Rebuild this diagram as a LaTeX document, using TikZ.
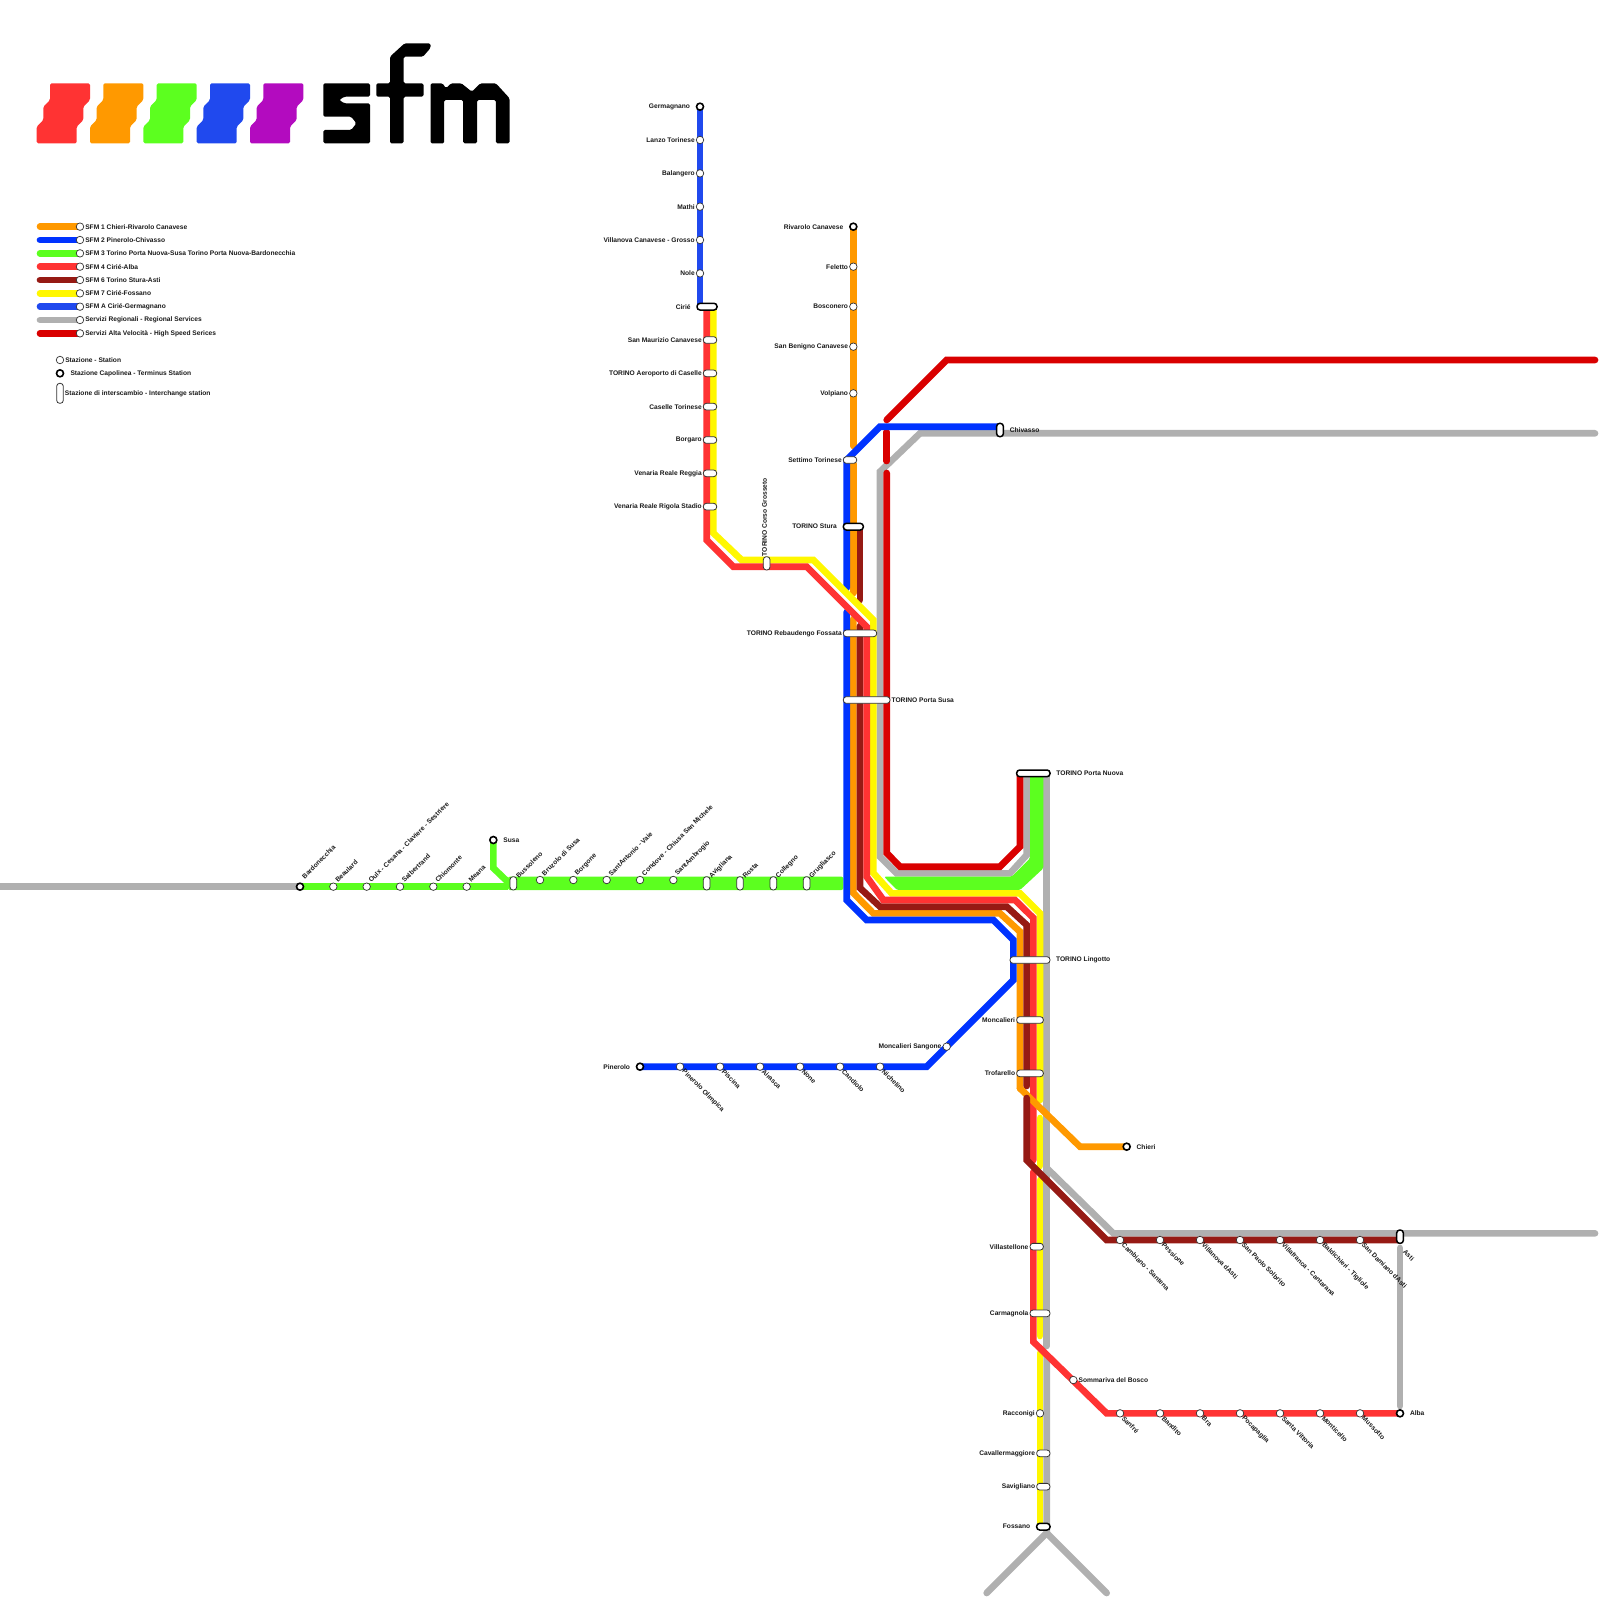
\documentclass[tikz,border=0pt]{standalone}
\usepackage{fontspec}
\setmainfont{Liberation Sans}
\usetikzlibrary{backgrounds}
\definecolor{sfmorange}{HTML}{FF9900}
\definecolor{sfmblue}{HTML}{0033FF}
\definecolor{sfmgreen}{HTML}{5CFF1F}
\definecolor{sfmred}{HTML}{FF3333}
\definecolor{sfmbrown}{HTML}{961A14}
\definecolor{sfmyellow}{HTML}{FFF700}
\definecolor{sfmablue}{HTML}{2049EE}
\definecolor{sfmgrey}{HTML}{B0B0B0}
\definecolor{sfmav}{HTML}{D90000}
\definecolor{sfmpurple}{HTML}{B30BBF}
\tikzset{
  rail/.style={line width=6.67pt,line cap=round},
  stn/.style={circle,draw=black!80,fill=white,line width=.7pt,inner sep=0pt,minimum size=7.5pt},
  term/.style={stn,draw=black,line width=1.6pt,minimum size=7pt},
  pill/.style={rectangle,draw=black!80,fill=white,line width=.8pt,rounded corners=3pt,inner sep=0pt,minimum height=6.67pt,minimum width=#1},
  vpill/.style={rectangle,draw=black!80,fill=white,line width=.8pt,rounded corners=3pt,inner sep=0pt,minimum width=6.67pt,minimum height=#1},
  heavy/.style={draw=black,line width=1.5pt},
  lbl/.style={font=\bfseries\fontsize{6.65}{8}\selectfont,inner sep=0pt,label distance=1pt,text=black!90},
  lblfar/.style={lbl,label distance=5.5pt},
  lblup/.style={lbl,rotate=45,anchor=west,label distance=2.5pt},
  lbldown/.style={lbl,rotate=-45,anchor=west,label distance=1pt},
  lblvert/.style={lbl,rotate=90,anchor=west,label distance=2pt},
  cube/.style={rounded corners=1.5pt,shift={(#1,0)}},
  letter/.style={fill=black,rounded corners=1.5pt},
}
\begin{document}
\begin{tikzpicture}[x=1pt,y=-1pt]
  \useasboundingbox (0,0) rectangle (1600,1600);

  \foreach \offs/\col in {0/sfmred,53.33/sfmorange,106.67/sfmgreen,160/sfmablue,213.33/sfmpurple}
    \fill[\col,cube=\offs] (50,83.33) -- (90,83.33) -- (90,100) -- (83.33,106.67) -- (83.33,120) -- (76.67,126.67) -- (76.67,143.33) -- (36.67,143.33) -- (36.67,126.67) -- (43.33,120) -- (43.33,106.67) -- (50,100) -- cycle;
  \path[letter] (323.33,83.33) -- (370,83.33) -- (370,96.67) -- (344.4,96.67) -- (339.2,100) -- (344.4,103.33) -- (370,103.33) -- (370,143.33) -- (323.33,143.33) -- (323.33,130) -- (351.2,130) -- (356.4,123.33) -- (351.2,116.67) -- (323.33,116.67) -- cycle;
  \path[letter] (404.6,43.33) -- (430.5,43.33) -- (430.5,48) -- (423,56.67) -- (403.6,56.67) -- (403.6,83.33) -- (423.5,83.33) -- (423.5,96.67) -- (403.6,96.67) -- (403.6,143.33) -- (390,143.33) -- (390,96.67) -- (376.4,96.67) -- (376.4,83.33) -- (390,83.33) -- (390,56.67) -- cycle;
  \path[letter] (430.5,83.33) -- (442.5,83.33) -- (446,88.33) -- (451,83.33) -- (461.4,83.33) -- (471.8,91.67) -- (480.4,83.33) -- (495.9,83.33) -- (509.6,98.33) -- (509.6,143.33) -- (495.9,143.33) -- (495.9,100) -- (477,100) -- (477,143.33) -- (463.2,143.33) -- (463.2,100) -- (444.2,100) -- (444.2,143.33) -- (430.5,143.33) -- cycle;

  \node[stn,label={[lbl]right:SFM 1 Chieri-Rivarolo Canavese}] (legone) at (80,226.67) {};
  \node[stn,label={[lbl]right:SFM 2 Pinerolo-Chivasso}] (legtwo) at (80,240) {};
  \node[stn,label={[lbl]right:SFM 3 Torino Porta Nuova-Susa Torino Porta Nuova-Bardonecchia}] (legthree) at (80,253.33) {};
  \node[stn,label={[lbl]right:SFM 4 Cirié-Alba}] (legfour) at (80,266.67) {};
  \node[stn,label={[lbl]right:SFM 6 Torino Stura-Asti}] (legsix) at (80,280) {};
  \node[stn,label={[lbl]right:SFM 7 Cirié-Fossano}] (legseven) at (80,293.33) {};
  \node[stn,label={[lbl]right:SFM A Cirié-Germagnano}] (lega) at (80,306.67) {};
  \node[stn,label={[lbl]right:Servizi Regionali - Regional Services}] (legreg) at (80,320) {};
  \node[stn,label={[lbl]right:Servizi Alta Velocità - High Speed Serices}] (legav) at (80,333.33) {};
  \node[stn,label={[lbl]right:Stazione - Station}] (legstn) at (60,360) {};
  \node[term,label={[lbl,label distance=6pt]right:Stazione Capolinea - Terminus Station}] (legterm) at (60,373.33) {};
  \node[vpill=20pt,label={[lbl]right:Stazione di interscambio - Interchange station}] (legpill) at (60,393.33) {};

  \node[term,label={[lblfar]left:Germagnano}] (germagnano) at (700,106.67) {};
  \node[stn,label={[lbl]left:Lanzo Torinese}] (lanzo) at (700,140) {};
  \node[stn,label={[lbl]left:Balangero}] (balangero) at (700,173.33) {};
  \node[stn,label={[lbl]left:Mathi}] (mathi) at (700,206.67) {};
  \node[stn,label={[lbl]left:Villanova Canavese - Grosso}] (villanovac) at (700,240) {};
  \node[stn,label={[lbl]left:Nole}] (nole) at (700,273.33) {};
  \node[pill=20pt,heavy,label={[lblfar]left:Cirié}] (cirie) at (707,306.67) {};
  \node[pill=13.33pt,label={[lbl]left:San Maurizio Canavese}] (maurizio) at (710,340) {};
  \node[pill=13.33pt,label={[lbl]left:TORINO Aeroporto di Caselle}] (aeroporto) at (710,373.33) {};
  \node[pill=13.33pt,label={[lbl]left:Caselle Torinese}] (caselle) at (710,406.67) {};
  \node[pill=13.33pt,label={[lbl]left:Borgaro}] (borgaro) at (710,440) {};
  \node[pill=13.33pt,label={[lbl]left:Venaria Reale Reggia}] (reggia) at (710,473.33) {};
  \node[pill=13.33pt,label={[lbl]left:Venaria Reale Rigola Stadio}] (rigola) at (710,506.67) {};
  \node[vpill=13.33pt,label={[lblvert]90:TORINO Corso Grosseto}] (grosseto) at (766.67,563.33) {};

  \node[term,label={[lblfar]left:Rivarolo Canavese}] (rivarolo) at (853.33,226.67) {};
  \node[stn,label={[lbl]left:Feletto}] (feletto) at (853.33,266.67) {};
  \node[stn,label={[lbl]left:Bosconero}] (bosconero) at (853.33,306.67) {};
  \node[stn,label={[lbl]left:San Benigno Canavese}] (benigno) at (853.33,346.67) {};
  \node[stn,label={[lbl]left:Volpiano}] (volpiano) at (853.33,393.33) {};
  \node[pill=13.33pt,label={[lbl]left:Settimo Torinese}] (settimo) at (850,460) {};
  \node[pill=20pt,heavy,label={[lblfar]left:TORINO Stura}] (stura) at (853.33,526.67) {};
  \node[pill=33.33pt,label={[lbl]left:TORINO Rebaudengo Fossata}] (rebaudengo) at (860,633.33) {};
  \node[pill=46.67pt,label={[lbl]right:TORINO Porta Susa}] (portasusa) at (866.67,700) {};
  \node[vpill=13.33pt,heavy,label={[lblfar]right:Chivasso}] (chivasso) at (1000,430) {};
  \node[pill=33.33pt,heavy,label={[lblfar]right:TORINO Porta Nuova}] (portanuova) at (1033.33,773.33) {};
  \node[pill=40pt,label={[lblfar]right:TORINO Lingotto}] (lingotto) at (1030,960) {};
  \node[pill=26.67pt,label={[lbl]left:Moncalieri}] (moncalieri) at (1030,1020) {};
  \node[pill=26.67pt,label={[lbl]left:Trofarello}] (trofarello) at (1030,1073.33) {};
  \node[pill=13.33pt,label={[lbl]left:Villastellone}] (villastellone) at (1036.67,1246.67) {};
  \node[pill=20pt,label={[lbl]left:Carmagnola}] (carmagnola) at (1040,1313.33) {};
  \node[stn,label={[lbl]left:Racconigi}] (racconigi) at (1040,1413.33) {};
  \node[pill=13.33pt,label={[lbl]left:Cavallermaggiore}] (cavaller) at (1043.33,1453.33) {};
  \node[pill=13.33pt,label={[lbl]left:Savigliano}] (savigliano) at (1043.33,1486.67) {};
  \node[pill=13.33pt,heavy,label={[lblfar]left:Fossano}] (fossano) at (1043.33,1526.67) {};

  \node[term,label={[lblup,label distance=6pt]45:Bardonecchia}] (bardonecchia) at (300,886.67) {};
  \node[stn,label={[lblup]45:Beaulard}] (beaulard) at (333.33,886.67) {};
  \node[stn,label={[lblup]45:Oulx - Cesana - Claviere - Sestriere}] (oulx) at (366.67,886.67) {};
  \node[stn,label={[lblup]45:Salbertrand}] (salbertrand) at (400,886.67) {};
  \node[stn,label={[lblup]45:Chiomonte}] (chiomonte) at (433.33,886.67) {};
  \node[stn,label={[lblup]45:Meana}] (meana) at (466.67,886.67) {};
  \node[term,label={[lblfar]right:Susa}] (susa) at (493.33,840) {};
  \node[vpill=13.33pt,label={[lblup]45:Bussoleno}] (bussoleno) at (513.33,883.33) {};
  \node[stn,label={[lblup]45:Bruzolo di Susa}] (bruzolo) at (540,880) {};
  \node[stn,label={[lblup]45:Borgone}] (borgone) at (573.33,880) {};
  \node[stn,label={[lblup]45:SantAntonio - Vaie}] (santantonio) at (606.67,880) {};
  \node[stn,label={[lblup]45:Condove - Chiusa San Michele}] (condove) at (640,880) {};
  \node[stn,label={[lblup]45:SantAmbrogio}] (santambrogio) at (673.33,880) {};
  \node[vpill=13.33pt,label={[lblup]45:Avigliana}] (avigliana) at (706.67,883.33) {};
  \node[vpill=13.33pt,label={[lblup]45:Rosta}] (rosta) at (740,883.33) {};
  \node[vpill=13.33pt,label={[lblup]45:Collegno}] (collegno) at (773.33,883.33) {};
  \node[vpill=13.33pt,label={[lblup]45:Grugliasco}] (grugliasco) at (806.67,883.33) {};

  \node[term,label={[lblfar]left:Pinerolo}] (pinerolo) at (640,1066.67) {};
  \node[stn,label={[lbldown]-45:Pinerolo Olimpica}] (olimpica) at (680,1066.67) {};
  \node[stn,label={[lbldown]-45:Piscina}] (piscina) at (720,1066.67) {};
  \node[stn,label={[lbldown]-45:Airasca}] (airasca) at (760,1066.67) {};
  \node[stn,label={[lbldown]-45:None}] (none) at (800,1066.67) {};
  \node[stn,label={[lbldown]-45:Candiolo}] (candiolo) at (840,1066.67) {};
  \node[stn,label={[lbldown]-45:Nichelino}] (nichelino) at (880,1066.67) {};
  \node[stn,label={[lbl]left:Moncalieri Sangone}] (sangone) at (946.67,1046.67) {};

  \node[term,label={[lblfar]right:Chieri}] (chieri) at (1126.67,1146.67) {};
  \node[stn,label={[lbldown]-45:Cambiano - Santena}] (cambiano) at (1120,1240) {};
  \node[stn,label={[lbldown]-45:Pessione}] (pessione) at (1160,1240) {};
  \node[stn,label={[lbldown]-45:Villanova dAsti}] (villanovaa) at (1200,1240) {};
  \node[stn,label={[lbldown]-45:San Paolo Solbrito}] (sanpaolo) at (1240,1240) {};
  \node[stn,label={[lbldown]-45:Villafranca - Cantarana}] (villafranca) at (1280,1240) {};
  \node[stn,label={[lbldown]-45:Baldichieri - Tigliole}] (baldichieri) at (1320,1240) {};
  \node[stn,label={[lbldown]-45:San Damiano dAsti}] (damiano) at (1360,1240) {};
  \node[vpill=13.33pt,heavy,label={[lbldown,label distance=10pt]-45:Asti}] (asti) at (1400,1236.67) {};

  \node[stn,label={[lbl]right:Sommariva del Bosco}] (sommariva) at (1073.33,1380) {};
  \node[stn,label={[lbldown]-45:Sanfré}] (sanfre) at (1120,1413.33) {};
  \node[stn,label={[lbldown]-45:Bandito}] (bandito) at (1160,1413.33) {};
  \node[stn,label={[lbldown]-45:Bra}] (bra) at (1200,1413.33) {};
  \node[stn,label={[lbldown]-45:Pocapaglia}] (pocapaglia) at (1240,1413.33) {};
  \node[stn,label={[lbldown]-45:Santa Vittoria}] (vittoria) at (1280,1413.33) {};
  \node[stn,label={[lbldown]-45:Monticello}] (monticello) at (1320,1413.33) {};
  \node[stn,label={[lbldown]-45:Mussotto}] (mussotto) at (1360,1413.33) {};
  \node[term,label={[lblfar]right:Alba}] (alba) at (1400,1413.33) {};

  \begin{scope}[on background layer]
    \draw[rail,sfmorange] (legone.center) -- ++(-40,0);
    \draw[rail,sfmblue] (legtwo.center) -- ++(-40,0);
    \draw[rail,sfmgreen] (legthree.center) -- ++(-40,0);
    \draw[rail,sfmred] (legfour.center) -- ++(-40,0);
    \draw[rail,sfmbrown] (legsix.center) -- ++(-40,0);
    \draw[rail,sfmyellow] (legseven.center) -- ++(-40,0);
    \draw[rail,sfmablue] (lega.center) -- ++(-40,0);
    \draw[rail,sfmgrey] (legreg.center) -- ++(-40,0);
    \draw[rail,sfmav] (legav.center) -- ++(-40,0);

    \draw[rail,sfmablue] (germagnano.center) -- (700,306.67);

    \draw[rail,sfmgrey,line cap=butt] (0,886.67) -- (bardonecchia.center);
    \draw[rail,sfmgrey] (1595,433.33) -- (920,433.33) -- (880,471.67) -- (880,856.67) -- (896.67,873.33) -- (1010,873.33) -- (1026.67,855) -- (1026.67,773.33);
    \draw[rail,sfmgrey] (1046.67,773.33) -- (1046.67,1346);
    \draw[rail,sfmgrey] (1046.67,1168) -- (1113.33,1233.33) -- (1595,1233.33);
    \draw[rail,sfmgrey] (1400,1248) -- (1400,1406);
    \draw[rail,sfmgrey] (1046.67,1355) -- (1046.67,1533) -- (986.67,1593);
    \draw[rail,sfmgrey] (1046.67,1533) -- (1106.67,1593);

    \draw[rail,sfmav] (886.67,420) -- (946.67,360) -- (1595,360);
    \draw[rail,sfmav] (886.67,432) -- (886.67,461);
    \draw[rail,sfmav] (886.67,473) -- (886.67,853) -- (900,866.67) -- (1000,866.67) -- (1020,846.67) -- (1020,773.33);

    \fill[sfmgreen,rounded corners=1.5pt] (884,876.67) -- (1011.67,876.67) -- (1030,858.33) -- (1030,773.33) -- (1043.33,773.33) -- (1043.33,868.33) -- (1020,890) -- (897,890) -- cycle;
    \fill[sfmgreen,rounded corners=2pt] (508,876.67) rectangle (843.33,890);
    \draw[line width=6.67pt,sfmgreen] (bardonecchia.center) -- (508,886.67);
    \draw[line width=6.67pt,sfmgreen] (susa.center) -- (493.33,868) -- (510,884);

    \draw[rail,sfmorange] (rivarolo.center) -- (853.33,446);
    \draw[rail,sfmorange] (853.33,464) -- (853.33,593);
    \draw[rail,sfmorange] (853.33,619) -- (853.33,893) -- (873.33,913.33) -- (1000,913.33) -- (1020,931.67) -- (1020,1088.33);

    \draw[rail,sfmblue] (1000,426.67) -- (880,426.67) -- (846.67,460) -- (846.67,588);
    \draw[rail,sfmblue] (846.67,612) -- (846.67,900) -- (866.67,920) -- (993.33,920) -- (1013.33,940) -- (1013.33,980) -- (926.67,1066.67) -- (pinerolo.center);

    \draw[rail,sfmbrown] (860,526.67) -- (860,600);
    \draw[rail,sfmbrown] (860,626) -- (860,888) -- (880,906.67) -- (1006.67,906.67) -- (1026.67,925) -- (1026.67,1086);

    \draw[rail,sfmyellow] (713.33,306.67) -- (713.33,533) -- (741.67,560) -- (813.33,560) -- (873.33,620) -- (873.33,873) -- (891.67,893.33) -- (1020,893.33) -- (1040,913.33) -- (1040,1100);
    \draw[rail,sfmyellow] (1040,1118) -- (1040,1166);
    \draw[rail,sfmyellow] (1040,1180) -- (1040,1336);
    \draw[rail,sfmyellow] (1040,1353) -- (1040,1526.67);

    \draw[rail,sfmred] (706.67,306.67) -- (706.67,540) -- (733.33,566.67) -- (806.67,566.67) -- (866.67,626.67) -- (866.67,876.67) -- (883.33,900) -- (1015,900) -- (1033.33,918) -- (1033.33,1160);
    \draw[rail,sfmred] (1033.33,1172) -- (1033.33,1341.67) -- (1106.67,1413.33) -- (alba.center);

    \draw[rail,sfmorange] (1020,1088.33) -- (1080,1146.67) -- (chieri.center);
    \draw[rail,sfmbrown] (1026.67,1098) -- (1026.67,1160) -- (1106.67,1240) -- (1400,1240);
  \end{scope}
\end{tikzpicture}
\end{document}
